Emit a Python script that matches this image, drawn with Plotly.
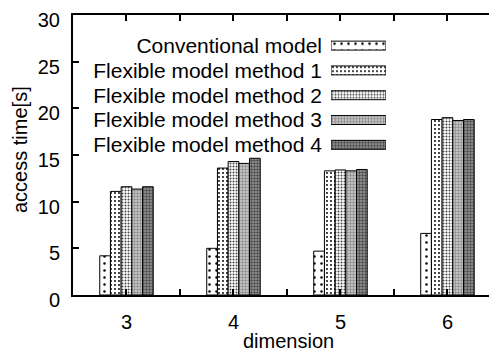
import plotly.graph_objects as go

dimensions = [3, 4, 5, 6]
series_names = [
    "Conventional model",
    "Flexible model method 1",
    "Flexible model method 2",
    "Flexible model method 3",
    "Flexible model method 4",
]
conventional = [4.2, 5.0, 4.7, 6.6]
method1 = [11.1, 13.6, 13.3, 18.8]
method2 = [11.6, 14.3, 13.4, 19.0]
method3 = [11.35, 14.1, 13.3, 18.7]
method4 = [11.6, 14.65, 13.45, 18.8]
series_values = [conventional, method1, method2, method3, method4]
y_ticks = [0, 5, 10, 15, 20, 25, 30]
legend_swatch = [1]

patterns = [
    dict(bg="white", fg="black", shape=".", size=7, solidity=0.1),
    dict(bg="white", fg="black", shape=".", size=4, solidity=0.18),
    dict(bg="white", fg="#444444", shape=".", size=3, solidity=0.35),
    dict(bg="#d2d2d2", fg="#8a8a8a", shape=".", size=3, solidity=0.5),
    dict(bg="#9a9a9a", fg="#4a4a4a", shape=".", size=3, solidity=0.5),
]

FONT = "Liberation Sans, Arial, sans-serif"
fig = go.Figure()

for name, vals, p in zip(series_names, series_values, patterns):
    fig.add_trace(go.Bar(
        x=dimensions, y=vals, name=name, showlegend=False,
        marker=dict(color=p["bg"], line=dict(color="black", width=1),
                    pattern=dict(shape=p["shape"], fgcolor=p["fg"], bgcolor=p["bg"],
                                 size=p["size"], solidity=p["solidity"], fillmode="replace")),
        xaxis="x", yaxis="y",
    ))

for name, p in zip(series_names, patterns):
    fig.add_trace(go.Bar(
        x=legend_swatch, y=[name], orientation="h", showlegend=False,
        offsetgroup="leg", width=0.36,
        marker=dict(color=p["bg"], line=dict(color="black", width=1),
                    pattern=dict(shape=p["shape"], fgcolor=p["fg"], bgcolor=p["bg"],
                                 size=p["size"], solidity=p["solidity"], fillmode="replace")),
        xaxis="x2", yaxis="y2", hoverinfo="skip",
    ))

# page body has an 8px default margin, so the figure is sized to fit inside the window
fig.update_layout(
    width=489, height=343,
    margin=dict(l=65, r=0, t=7, b=56, autoexpand=False),
    paper_bgcolor="white", plot_bgcolor="white",
    font=dict(family=FONT, size=20, color="black"),
    barmode="group", bargap=0.5, bargroupgap=0,
    showlegend=False,
    xaxis=dict(
        range=[2.5, 6.463], tickvals=dimensions, ticktext=[str(d) for d in dimensions],
        ticks="inside", ticklen=6, tickwidth=2, tickcolor="black",
        minor=dict(ticks="inside", ticklen=6, tickwidth=2, tickcolor="black", tick0=2.5, dtick=1),
        showline=True, linecolor="black", linewidth=2, mirror="allticks",
        showgrid=False, zeroline=False, automargin=False,
        ticklabelstandoff=8,
    ),
    yaxis=dict(
        range=[0, 30], tickvals=y_ticks,
        ticks="inside", ticklen=6, tickwidth=2, tickcolor="black",
        showline=True, linecolor="black", linewidth=2,
        showgrid=False, zeroline=False, automargin=False,
        ticklabelstandoff=7, ticklabelshift=5, ticklabeloverflow="allow",
    ),
    xaxis2=dict(domain=[0.6085, 0.738], anchor="y2", range=[0, 1], visible=False),
    yaxis2=dict(domain=[0.492, 0.935], anchor="x2", type="category",
                categoryorder="array", categoryarray=series_names, autorange="reversed",
                tickmode="array", tickvals=series_names,
                showline=False, showgrid=False, zeroline=False, ticks="", automargin=False,
                ticklabelstandoff=8, tickfont=dict(size=21)),
    annotations=[
        dict(text="dimension", xref="paper", yref="paper", x=(288 - 73) / 424, y=-(341 - 295) / 280,
             xanchor="center", yanchor="middle", showarrow=False, font=dict(size=20)),
        dict(text="access time[s]", xref="paper", yref="paper", x=(20 - 73) / 424, y=(295 - 150) / 280,
             xanchor="center", yanchor="middle", textangle=-90, showarrow=False, font=dict(size=20)),
    ],
)

fig.write_html("out.html")
